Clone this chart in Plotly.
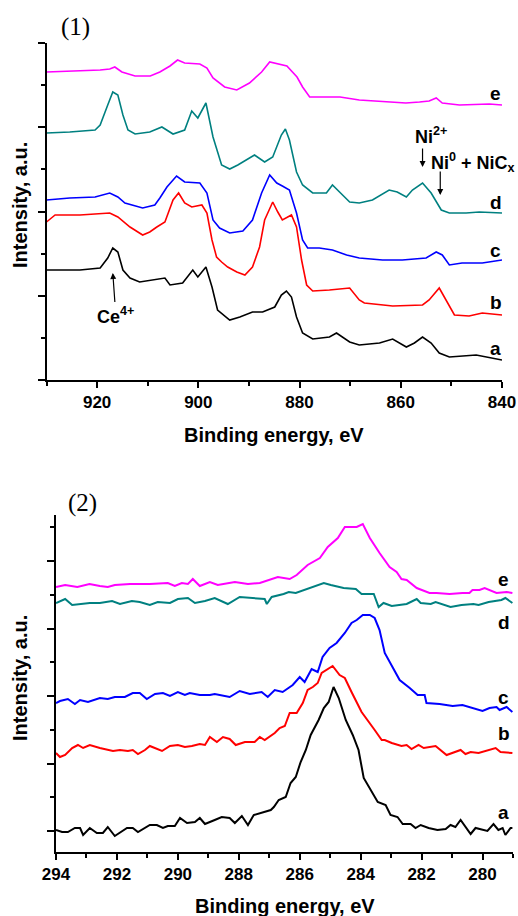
import plotly.graph_objects as go

# ---------------- Panel (1): Ni 2p / Ce 3d region ----------------
p1_e_x = [930, 925.4, 922, 919.4, 917.5, 916.5, 915.1, 912.5, 909.5, 907.6, 905.6, 904.1, 902.7, 899.7,
          898.3, 897.1, 894.8, 892.4, 889.9, 887.5, 885.9, 884, 882.5, 880.5, 879.4, 878, 875, 872,
          868.2, 865, 862.2, 859, 856.3, 854.4, 853, 851.8, 848.4, 845, 842.5, 840]
p1_e_y = [308, 309, 309, 310, 311, 313, 308, 304, 304, 308, 314, 320, 317, 316,
          312, 302, 293, 290, 297, 308, 318, 316, 314, 303, 293, 283, 283, 283,
          280, 279, 278, 277, 278, 279, 282, 277, 275, 276, 276, 275]

p1_d_x = [930, 925.4, 920.4, 919.4, 917.9, 916.9, 915.9, 914.9, 913.9, 912.5, 909.6, 907.2, 905.0, 902.7,
          901.3, 900.1, 898.5, 897.1, 895.4, 893.8, 892.2, 888.9, 886.9, 885.3, 883.6, 882.8, 882.0, 880.6,
          879.4, 877.4, 874.7, 873.5, 872.1, 870.1, 868.2, 865.6, 862.3, 860.7, 858.9, 857.7, 855.7, 854.0,
          852.0, 850.4, 847.1, 844.5, 840]
p1_d_y = [247, 248, 250, 255, 275, 288, 285, 265, 250, 246, 248, 253, 246, 250,
          269, 262, 277, 243, 215, 211, 215, 225, 218, 223, 245, 251, 240, 208,
          195, 187, 187, 195, 188, 178, 177, 180, 190, 188, 183, 190, 197, 187,
          170, 167, 167, 168, 167]

p1_c_x = [930, 925.4, 920.4, 917.5, 915.9, 914.5, 911.0, 908.6, 907.6, 906.2, 904.3, 902.7, 899.7, 898.3,
          897.1, 895.8, 893.8, 891.2, 889.3, 887.5, 885.9, 884.5, 883.4, 882.0, 880.6, 879.4, 878.4, 876.1,
          873.5, 870.7, 868.2, 863.6, 859.7, 855.0, 853.0, 851.8, 850.4, 847.9, 843.9, 840]
p1_c_y = [180, 182, 183, 187, 183, 177, 172, 175, 182, 193, 204, 198, 197, 187,
          160, 152, 147, 149, 160, 187, 205, 197, 194, 190, 167, 140, 132, 132,
          130, 125, 122, 120, 120, 122, 128, 125, 115, 117, 117, 120]

p1_b_x = [930, 928.3, 923.4, 917.5, 915.9, 913.5, 911.0, 909.6, 908.2, 906.6, 905.0, 903.9, 902.7, 901.3,
          899.3, 898.3, 897.3, 896.4, 895.4, 894.2, 892.4, 890.8, 889.3, 887.9, 886.9, 885.9, 885.3, 884.3,
          883.4, 881.6, 880.6, 879.6, 878.6, 877.4, 874.1, 870.1, 868.2, 867.2, 861.6, 855.7, 854.4, 852.4,
          851.0, 849.4, 846.5, 843.9, 840]
p1_b_y = [158, 165, 165, 167, 163, 153, 145, 148, 153, 158, 180, 187, 177, 173,
          175, 167, 140, 123, 118, 113, 108, 105, 113, 133, 160, 172, 178, 168,
          160, 165, 153, 120, 95, 89, 90, 92, 80, 77, 74, 75, 80, 92,
          80, 65, 64, 67, 65]

p1_a_x = [930, 923.4, 919.4, 917.9, 916.9, 915.9, 914.9, 913.5, 911.6, 908.6, 906.6, 905.6, 903.1, 901.1,
          900.1, 898.5, 897.3, 896.2, 893.8, 891.8, 889.3, 887.3, 884.9, 883.6, 882.6, 881.6, 880.6, 879.4,
          877.4, 874.1, 872.7, 870.1, 868.2, 864.2, 861.6, 858.9, 857.3, 855.7, 854.0, 852.4, 850.4, 845.1, 840]
p1_a_y = [110, 110, 112, 122, 132, 128, 110, 102, 98, 100, 102, 95, 97, 110,
          103, 113, 93, 70, 60, 63, 68, 68, 73, 85, 89, 83, 63, 47,
          41, 43, 47, 38, 35, 37, 41, 33, 37, 43, 37, 27, 23, 25, 20]

# ---------------- Panel (2): C 1s region ----------------
p2_e_x = [294.0, 293.7, 293.3, 292.9, 292.56, 292.3, 292.07, 291.57, 290.92, 290.33, 290.1, 289.87, 289.67,
          289.51, 289.28, 288.95, 288.69, 288.13, 287.7, 287.31, 286.72, 286.33, 286.1, 285.74, 285.34,
          285.08, 284.75, 284.52, 284.13, 283.93, 283.70, 283.38, 283.05, 282.82, 282.66, 282.49, 282.16,
          281.74, 281.51, 281.08, 280.66, 280.43, 280.33, 280.10, 279.93, 279.54, 279.21, 279.02]
p2_e_y = [265, 267, 265, 268, 266, 265, 267, 268, 268, 269, 266, 269, 268,
          273, 266, 270, 267, 270, 268, 269, 275, 273, 277, 287, 294,
          305, 314, 325, 325, 328, 314, 299, 285, 280, 273, 272, 264,
          259, 259, 258, 259, 259, 262, 262, 264, 259, 260, 259]

p2_d_x = [294.0, 293.7, 293.47, 292.89, 292.56, 292.16, 291.9, 291.51, 291.25, 290.92, 290.66, 290.26, 290.0,
          289.67, 289.44, 289.11, 288.79, 288.36, 287.97, 287.48, 287.15, 287.08, 286.92, 286.53, 286.36,
          286.13, 285.87, 285.48, 285.21, 284.98, 284.56, 284.16, 283.97, 283.57, 283.41, 283.25, 282.98,
          282.49, 282.16, 282.03, 281.70, 281.54, 281.05, 280.69, 280.30, 280.13, 279.80, 279.38, 279.25, 279.02]
p2_d_y = [249, 253, 247, 249, 249, 251, 248, 251, 250, 247, 250, 249, 253,
          254, 249, 251, 254, 248, 255, 254, 253, 248, 255, 258, 260,
          259, 262, 266, 269, 267, 264, 263, 258, 258, 245, 249, 246,
          248, 253, 249, 248, 250, 245, 247, 248, 247, 250, 252, 254, 249]

p2_c_x = [294.0, 293.87, 293.61, 293.38, 293.21, 292.95, 292.56, 292.30, 292.07, 291.74, 291.48, 291.25,
          291.02, 290.75, 290.49, 290.26, 290.0, 289.77, 289.61, 289.28, 288.95, 288.79, 288.30, 287.97,
          287.64, 287.25, 287.05, 286.82, 286.56, 286.23, 286.0, 285.84, 285.61, 285.41, 285.25, 285.02,
          284.79, 284.52, 284.30, 284.13, 283.93, 283.70, 283.54, 283.38, 283.21, 282.95, 282.72, 282.39,
          282.13, 281.90, 281.84, 281.41, 280.98, 280.66, 280.43, 280.0, 279.77, 279.54, 279.44, 279.21, 279.02]
p2_c_y = [149, 151, 153, 148, 152, 150, 154, 153, 155, 155, 159, 159,
          153, 158, 159, 156, 160, 157, 159, 157, 157, 158, 155, 161,
          158, 160, 155, 162, 160, 167, 175, 170, 183, 180, 195, 204,
          209, 219, 229, 232, 237, 237, 234, 222, 199, 185, 172, 164,
          157, 157, 149, 148, 146, 147, 145, 141, 144, 145, 142, 145, 140]

p2_b_x = [294.0, 293.87, 293.70, 293.47, 293.28, 293.11, 292.89, 292.56, 292.13, 291.90, 291.64, 291.48,
          291.31, 291.08, 290.92, 290.75, 290.52, 290.26, 290.0, 289.77, 289.54, 289.28, 289.11, 288.95,
          288.72, 288.52, 288.30, 288.10, 287.80, 287.48, 287.31, 287.15, 286.82, 286.66, 286.49, 286.33,
          286.10, 285.90, 285.74, 285.57, 285.41, 285.28, 285.02, 284.92, 284.69, 284.52, 284.30, 283.97,
          283.54, 283.31, 283.21, 282.98, 282.66, 282.49, 282.33, 282.10, 281.93, 281.77, 281.54, 281.18,
          280.72, 280.56, 280.39, 280.13, 279.57, 279.41, 279.02]
p2_b_y = [99, 95, 97, 104, 107, 104, 107, 104, 101, 102, 101, 102,
          98, 102, 106, 104, 101, 106, 107, 105, 106, 108, 107, 115,
          110, 115, 113, 107, 110, 110, 115, 112, 119, 124, 126, 139,
          139, 149, 162, 165, 169, 179, 184, 186, 177, 174, 160, 140,
          122, 112, 112, 109, 106, 107, 103, 107, 104, 105, 106, 97,
          102, 98, 100, 99, 104, 100, 99]

p2_a_x = [294.0, 293.80, 293.61, 293.38, 293.21, 293.11, 292.89, 292.66, 292.46, 292.30, 292.07, 291.67,
          291.48, 291.31, 290.92, 290.69, 290.49, 290.33, 290.10, 289.93, 289.70, 289.44, 289.28, 289.11,
          288.79, 288.56, 288.30, 288.13, 287.90, 287.70, 287.51, 287.28, 286.95, 286.85, 286.69, 286.46,
          286.30, 286.13, 285.97, 285.80, 285.64, 285.38, 285.21, 285.05, 284.89, 284.72, 284.49, 284.26,
          284.07, 283.90, 283.67, 283.44, 283.18, 283.02, 282.79, 282.62, 282.36, 282.20, 282.03, 281.77,
          281.48, 281.21, 281.05, 280.89, 280.72, 280.56, 280.39, 280.23, 280.07, 279.84, 279.64, 279.48,
          279.34, 279.25, 279.08, 279.02]
p2_a_y = [22, 20, 20, 24, 24, 17, 24, 19, 19, 25, 16, 24,
          24, 20, 27, 27, 24, 26, 26, 34, 29, 30, 34, 28,
          32, 35, 34, 29, 36, 27, 37, 39, 42, 45, 52, 55,
          69, 75, 90, 102, 117, 132, 144, 150, 165, 154, 132, 117,
          102, 74, 62, 50, 47, 37, 35, 28, 28, 24, 27, 24,
          22, 23, 27, 25, 32, 25, 18, 24, 23, 21, 28, 22,
          24, 17, 24, 24]

series_names = ["a", "b", "c", "d", "e"]
series_colors = ["#000000", "#FF0000", "#0000FF", "#008080", "#FF00FF"]

panel1 = [(p1_a_x, p1_a_y), (p1_b_x, p1_b_y), (p1_c_x, p1_c_y), (p1_d_x, p1_d_y), (p1_e_x, p1_e_y)]
panel2 = [(p2_a_x, p2_a_y), (p2_b_x, p2_b_y), (p2_c_x, p2_c_y), (p2_d_x, p2_d_y), (p2_e_x, p2_e_y)]

# label positions (data coordinates)
p1_label_x = 841.2
p1_label_y = [32, 78, 130, 178, 287]
p2_label_x = 279.3
p2_label_y = [40, 119, 155, 230, 273]

fig = go.Figure()
for (xs, ys), name, col in zip(panel1, series_names, series_colors):
    fig.add_trace(go.Scatter(x=xs, y=ys, mode="lines", name=name,
                             line=dict(color=col, width=1.6), xaxis="x", yaxis="y"))
for (xs, ys), name, col in zip(panel2, series_names, series_colors):
    fig.add_trace(go.Scatter(x=xs, y=ys, mode="lines", name=name,
                             line=dict(color=col, width=2), xaxis="x2", yaxis="y2"))

W, H = 518, 916
bold = dict(family="Arial, Liberation Sans, sans-serif", size=17, color="black", weight="bold")

axis_common = dict(showline=True, linecolor="black", linewidth=1.5, showgrid=False, zeroline=False,
                   ticks="outside", tickcolor="black", tickwidth=1.5)

fig.update_layout(
    width=W, height=H, margin=dict(l=0, r=0, t=0, b=0, autoexpand=False),
    paper_bgcolor="white", plot_bgcolor="white", showlegend=False,
    xaxis=dict(domain=[46.5 / W, 502 / W], range=[930, 840], anchor="y",
               tickmode="linear", tick0=840, dtick=20, ticklen=6,
               minor=dict(dtick=10, tick0=840, ticklen=4, ticks="outside", tickcolor="black", tickwidth=1.5),
               tickfont=bold, **axis_common),
    yaxis=dict(domain=[1 - 380 / H, 1 - 43 / H], range=[0, 337], anchor="x",
               tickmode="linear", tick0=0, dtick=84.25, ticklen=7, showticklabels=False,
               minor=dict(dtick=42.125, tick0=0, ticklen=4, ticks="outside", tickcolor="black", tickwidth=1.5),
               **axis_common),
    xaxis2=dict(domain=[56 / W, 513 / W], range=[294, 279], anchor="y2",
                tickmode="linear", tick0=280, dtick=2, ticklen=6,
                minor=dict(dtick=1, tick0=280, ticklen=4, ticks="outside", tickcolor="black", tickwidth=1.5),
                tickfont=bold, **axis_common),
    yaxis2=dict(domain=[1 - 852 / H, 1 - 515 / H], range=[0, 337], anchor="x2",
                tickmode="linear", tick0=21, dtick=67.5, ticklen=7, showticklabels=False,
                minor=dict(dtick=33.75, tick0=21, ticklen=4, ticks="outside", tickcolor="black", tickwidth=1.5),
                **axis_common),
)

anns = []
lab_font = dict(family="Arial, Liberation Sans, sans-serif", size=19, color="black", weight="bold")
ann_font = dict(family="Arial, Liberation Sans, sans-serif", size=18, color="black", weight="bold")
for name, yy in zip(series_names, p1_label_y):
    anns.append(dict(x=p1_label_x, y=yy, xref="x", yref="y", text=name, showarrow=False, font=lab_font))
for name, yy in zip(series_names, p2_label_y):
    anns.append(dict(x=p2_label_x, y=yy, xref="x2", yref="y2", text=name, showarrow=False, font=lab_font))

title_font = dict(family="Arial, Liberation Sans, sans-serif", size=20, color="black", weight="bold")
serif = dict(family="Liberation Serif, Times New Roman, serif", size=25, color="black")
cm = dict(xref="paper", yref="paper", xanchor="center", yanchor="middle", showarrow=False)
anns += [
    dict(x=274 / W, y=1 - 435 / H, text="Binding energy, eV", font=title_font, **cm),
    dict(x=284.5 / W, y=1 - 906 / H, text="Binding energy, eV", font=title_font, **cm),
    dict(x=20 / W, y=1 - 205 / H, text="Intensity, a.u.", textangle=-90, font=title_font, **cm),
    dict(x=20 / W, y=1 - 678 / H, text="Intensity, a.u.", textangle=-90, font=title_font, **cm),
    dict(x=75 / W, y=1 - 27 / H, text="(1)", font=serif, **cm),
    dict(x=82 / W, y=1 - 503 / H, text="(2)", font=serif, **cm),
    # peak assignments
    dict(x=854.0, y=245, xref="x", yref="y", text="Ni<sup>2+</sup>", showarrow=False, font=ann_font),
    dict(x=855.7, y=213, xref="x", yref="y", ax=0, ay=-20, text="", showarrow=True,
         arrowhead=2, arrowsize=1, arrowwidth=1.2, arrowcolor="black"),
    dict(x=517 / W, y=1 - 162 / H, xref="paper", yref="paper", xanchor="right", yanchor="middle",
         text="Ni<sup>0</sup> + NiC<sub>x</sub>", showarrow=False, font=ann_font),
    dict(x=852.2, y=185, xref="x", yref="y", ax=0, ay=-25, text="", showarrow=True,
         arrowhead=2, arrowsize=1, arrowwidth=1.2, arrowcolor="black"),
    dict(x=916.9, y=107, xref="x", yref="y", ax=3, ay=42, text="Ce<sup>4+</sup>", showarrow=True,
         arrowhead=2, arrowsize=1, arrowwidth=1.2, arrowcolor="black", font=ann_font),
]
fig.update_layout(annotations=anns)

fig.write_html("out.html")
